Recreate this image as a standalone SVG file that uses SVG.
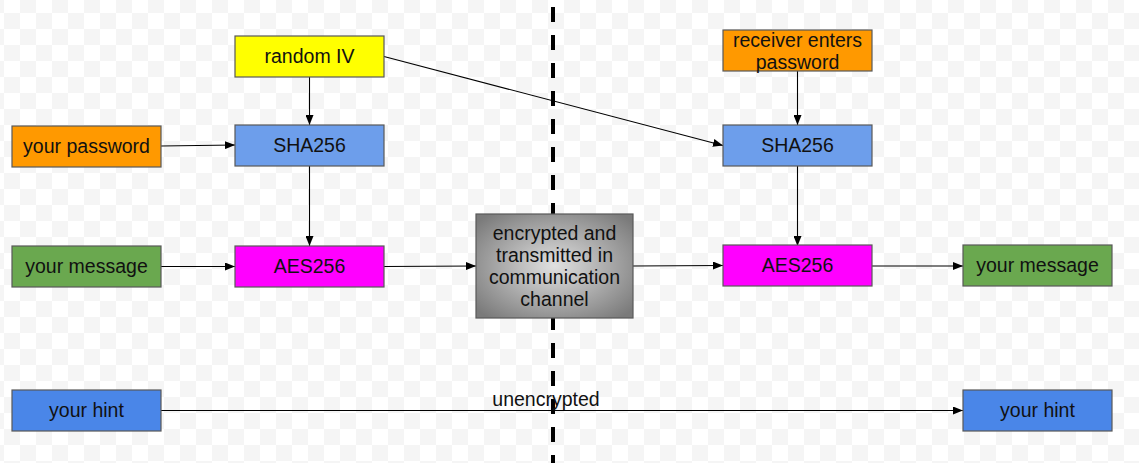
<svg xmlns="http://www.w3.org/2000/svg" width="1139" height="463" viewBox="0 0 1139 463">
<style>
  .box { stroke: #595959; stroke-width: 1.2; }
  .t { font-family: "Liberation Sans", Arial, sans-serif; font-size: 19.5px; fill: #111; text-anchor: middle; }
  .edge { stroke: #000; stroke-width: 1.1; fill: none; marker-end: url(#arr); }
</style>
<defs>
  <pattern id="chk" patternUnits="userSpaceOnUse" x="4" y="13" width="32" height="32">
    <rect width="32" height="32" fill="#ffffff"/>
    <rect x="0" y="0" width="16" height="16" fill="#f5f5f5"/>
    <rect x="16" y="16" width="16" height="16" fill="#f5f5f5"/>
  </pattern>
  <radialGradient id="grey" cx="50%" cy="50%" r="65%">
    <stop offset="0" stop-color="#e0e0e0"/>
    <stop offset="1" stop-color="#7a7a7a"/>
  </radialGradient>
  <marker id="arr" viewBox="0 0 10 8" refX="10" refY="4" markerWidth="10" markerHeight="8" markerUnits="userSpaceOnUse" orient="auto">
    <path d="M0,0 L10,4 L0,8 Z" fill="#000"/>
  </marker>
</defs>
<rect width="1139" height="463" fill="url(#chk)"/>

<line x1="553" y1="7" x2="553" y2="475" stroke="#000" stroke-width="4" stroke-dasharray="15 13"/>

<g id="connectors">
  <line class="edge" x1="309.5" y1="77" x2="309.5" y2="125"/>
  <line class="edge" x1="161" y1="146" x2="235" y2="145"/>
  <line class="edge" x1="309.5" y1="166" x2="309.5" y2="246"/>
  <line class="edge" x1="161" y1="266.5" x2="235" y2="266.5"/>
  <line class="edge" x1="384" y1="266.5" x2="476" y2="266"/>
  <line class="edge" x1="633" y1="266" x2="723" y2="265.5"/>
  <line class="edge" x1="384" y1="56.5" x2="723" y2="145.5"/>
  <line class="edge" x1="797.5" y1="71" x2="797.5" y2="125"/>
  <line class="edge" x1="797.5" y1="166" x2="797.5" y2="246"/>
  <line class="edge" x1="872" y1="266" x2="963" y2="266"/>
  <line class="edge" x1="161" y1="410.5" x2="963" y2="410.5"/>
  <text class="t" x="546" y="406">unencrypted</text>
</g>

<g id="random-iv">
  <rect class="box" x="235" y="36" width="149" height="41" fill="#ffff00"/>
  <text class="t" x="309.5" y="63">random IV</text>
</g>
<g id="your-password">
  <rect class="box" x="12" y="126" width="149" height="41" fill="#ff9900"/>
  <text class="t" x="86.5" y="153">your password</text>
</g>
<g id="sha256-left">
  <rect class="box" x="235" y="125" width="149" height="41" fill="#6d9eeb"/>
  <text class="t" x="309.5" y="152">SHA256</text>
</g>
<g id="your-message-left">
  <rect class="box" x="12" y="246" width="149" height="41" fill="#6aa84f"/>
  <text class="t" x="86.5" y="273">your message</text>
</g>
<g id="aes256-left">
  <rect class="box" x="235" y="246" width="149" height="41" fill="#ff00ff"/>
  <text class="t" x="309.5" y="273">AES256</text>
</g>
<g id="channel">
  <rect class="box" x="476" y="214" width="157" height="104" fill="url(#grey)"/>
  <text class="t" x="554.5" y="240">encrypted and</text>
  <text class="t" x="554.5" y="262">transmitted in</text>
  <text class="t" x="554.5" y="284">communication</text>
  <text class="t" x="554.5" y="306">channel</text>
</g>
<g id="receiver-password">
  <rect class="box" x="723" y="30" width="149" height="41" fill="#ff9900"/>
  <text class="t" x="797.5" y="46.5">receiver enters</text>
  <text class="t" x="797.5" y="68.5">password</text>
</g>
<g id="sha256-right">
  <rect class="box" x="723" y="125" width="149" height="41" fill="#6d9eeb"/>
  <text class="t" x="797.5" y="152">SHA256</text>
</g>
<g id="aes256-right">
  <rect class="box" x="723" y="245" width="149" height="41" fill="#ff00ff"/>
  <text class="t" x="797.5" y="272">AES256</text>
</g>
<g id="your-message-right">
  <rect class="box" x="963" y="245" width="149" height="41" fill="#6aa84f"/>
  <text class="t" x="1037.5" y="272">your message</text>
</g>
<g id="your-hint-left">
  <rect class="box" x="12" y="390" width="149" height="41" fill="#4a86e8"/>
  <text class="t" x="86.5" y="417">your hint</text>
</g>
<g id="your-hint-right">
  <rect class="box" x="963" y="390" width="149" height="41" fill="#4a86e8"/>
  <text class="t" x="1037.5" y="417">your hint</text>
</g>
</svg>
